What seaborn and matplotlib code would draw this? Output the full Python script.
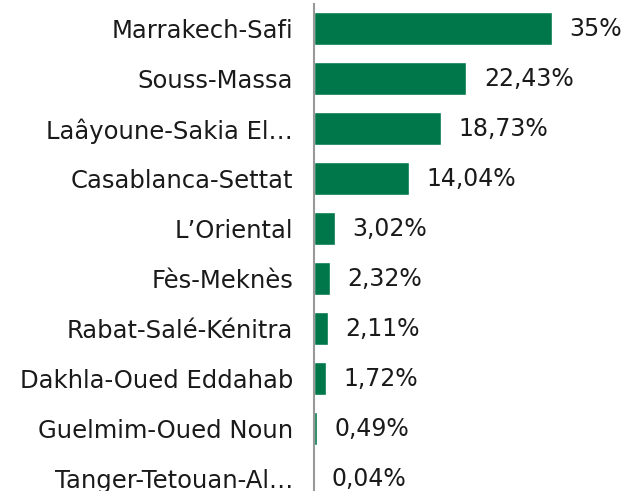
import matplotlib
matplotlib.use("Agg")
import matplotlib.pyplot as plt
import seaborn as sns
import pandas as pd

regions = ["Marrakech-Safi", "Souss-Massa", "Laâyoune-Sakia El…", "Casablanca-Settat",
           "L’Oriental", "Fès-Meknès", "Rabat-Salé-Kénitra", "Dakhla-Oued Eddahab",
           "Guelmim-Oued Noun", "Tanger-Tetouan-Al…"]
shares = [35, 22.43, 18.73, 14.04, 3.02, 2.32, 2.11, 1.72, 0.49, 0.04]
value_labels = ["35%", "22,43%", "18,73%", "14,04%", "3,02%", "2,32%", "2,11%",
                "1,72%", "0,49%", "0,04%"]

sns.set_theme(style="white")
plt.rcParams['font.family'] = ['DejaVu Sans']

df = pd.DataFrame({"region": regions, "share": shares})

fig = plt.figure(figsize=(6.24, 4.91), dpi=100)
ax = fig.add_axes([314/624, (491-504)/491, 310/624, 500/491])
sns.barplot(data=df, y="region", x="share", color="#00774A", width=0.66,
            saturation=1, ax=ax, orient="h")
ax.set_xlim(0, 45.6)
ax.set_ylim(9.5, -0.5)
ax.set_xlabel("")
ax.set_ylabel("")
ax.set_xticks([])
for s in ["top", "right", "bottom"]:
    ax.spines[s].set_visible(False)
ax.spines["left"].set_color("#999999")
ax.spines["left"].set_linewidth(1.5)
ax.tick_params(axis="y", length=0, pad=15, labelsize=17.5, labelcolor="#1a1a1a")

for cont in ax.containers:
    ax.bar_label(cont, labels=value_labels, padding=12.5, fontsize=17, color="#1a1a1a")

fig.savefig("out.png", dpi=100)
